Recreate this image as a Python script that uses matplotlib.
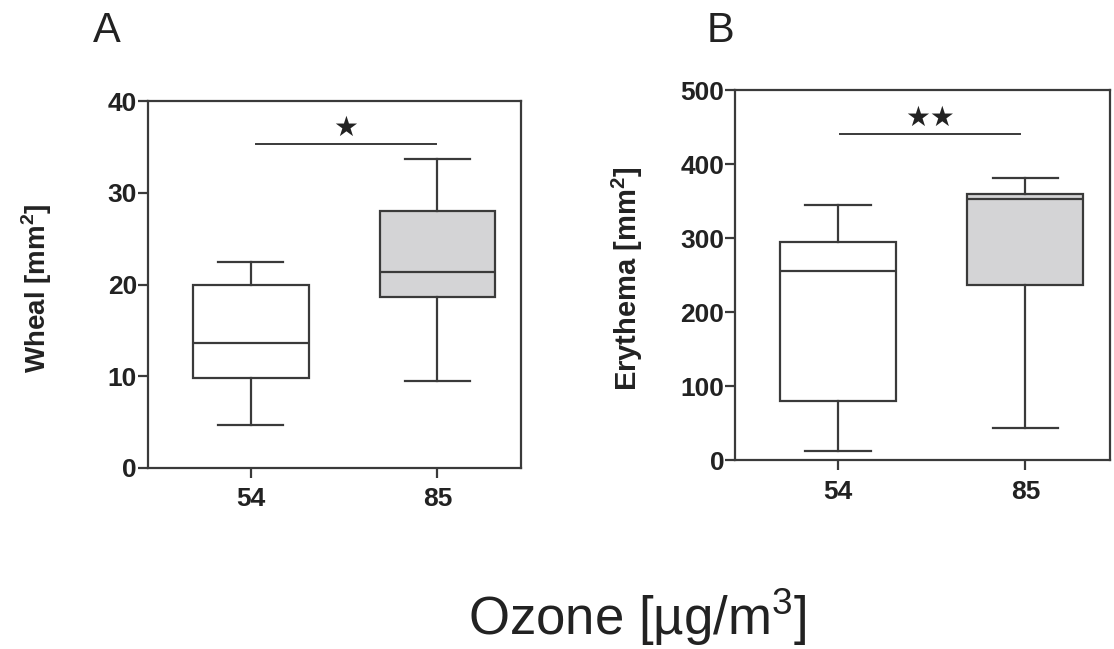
import matplotlib
matplotlib.use("Agg")
import matplotlib.pyplot as plt

plt.rcParams['font.family'] = ['Liberation Sans', 'DejaVu Sans']

groups = ["54", "85"]
# Panel A: Wheal [mm2]
wheal_low = [4.7, 9.5]
wheal_q1 = [9.8, 18.6]
wheal_med = [13.6, 21.4]
wheal_q3 = [20.0, 28.0]
wheal_high = [22.5, 33.7]
# Panel B: Erythema [mm2]
ery_low = [12, 43]
ery_q1 = [80, 237]
ery_med = [255, 353]
ery_q3 = [295, 360]
ery_high = [345, 382]

fills = ["white", "#d4d4d6"]
edge = "#3a3a3a"

fig = plt.figure(figsize=(11.14, 6.49), dpi=100)
axA = fig.add_axes([0.133, 0.279, 0.335, 0.565])
axB = fig.add_axes([0.660, 0.291, 0.336, 0.570])


def draw(ax, low, q1, med, q3, high, ylim, yticks, ylabel, label_x, label_size,
         sig_y, star, star_y, sig_x):
    stats = []
    for i, g in enumerate(groups):
        stats.append(dict(label=g, whislo=low[i], q1=q1[i], med=med[i],
                          q3=q3[i], whishi=high[i], fliers=[]))
    bp = ax.bxp(stats, positions=[0, 1], widths=0.62, patch_artist=True,
                showfliers=False, capwidths=0.35,
                boxprops=dict(linewidth=1.6, edgecolor=edge),
                medianprops=dict(color=edge, linewidth=1.6),
                whiskerprops=dict(color=edge, linewidth=1.6),
                capprops=dict(color=edge, linewidth=1.6))
    for patch, c in zip(bp['boxes'], fills):
        patch.set_facecolor(c)
    ax.set_xlim(-0.55, 1.45)
    ax.set_ylim(*ylim)
    ax.set_yticks(yticks)
    ax.set_xticks([0, 1])
    ax.set_xticklabels(groups)
    for s in ax.spines.values():
        s.set_color(edge)
        s.set_linewidth(1.6)
    ax.tick_params(axis='both', direction='out', length=7, width=1.6,
                   color=edge, labelsize=19, pad=1)
    ax.tick_params(axis='x', pad=7)
    for lab in ax.get_xticklabels() + ax.get_yticklabels():
        lab.set_fontweight('bold')
        lab.set_color('#222222')
    ax.set_ylabel(ylabel, fontsize=label_size, fontweight='bold', color='#222222')
    ax.yaxis.set_label_coords(label_x, 0.49)
    ax.plot(sig_x, [sig_y, sig_y], color=edge, linewidth=1.4)
    ax.text(sum(sig_x) / 2, star_y, star, ha='center', va='center',
            fontsize=20, color='#222222', family='DejaVu Sans')


draw(axA, wheal_low, wheal_q1, wheal_med, wheal_q3, wheal_high,
     (0, 40), [0, 10, 20, 30, 40], r"Wheal [mm$^\mathregular{2}$]", -0.252, 20,
     35.3, "★", 37.1, [0.03, 0.99])
draw(axB, ery_low, ery_q1, ery_med, ery_q3, ery_high,
     (0, 500), [0, 100, 200, 300, 400, 500], r"Erythema [mm$^\mathregular{2}$]", -0.24, 21,
     441, "★★", 463, [0.01, 0.97])

fig.text(0.083, 0.953, "A", fontsize=30, ha='left', va='center', color='#222222')
fig.text(0.634, 0.953, "B", fontsize=30, ha='left', va='center', color='#222222')
fig.text(0.572, 0.05, r"Ozone [µg/m$^\mathregular{3}$]", fontsize=38, ha='center',
         va='center', color='#222222')

fig.savefig("out.png", dpi=100, facecolor='white')
